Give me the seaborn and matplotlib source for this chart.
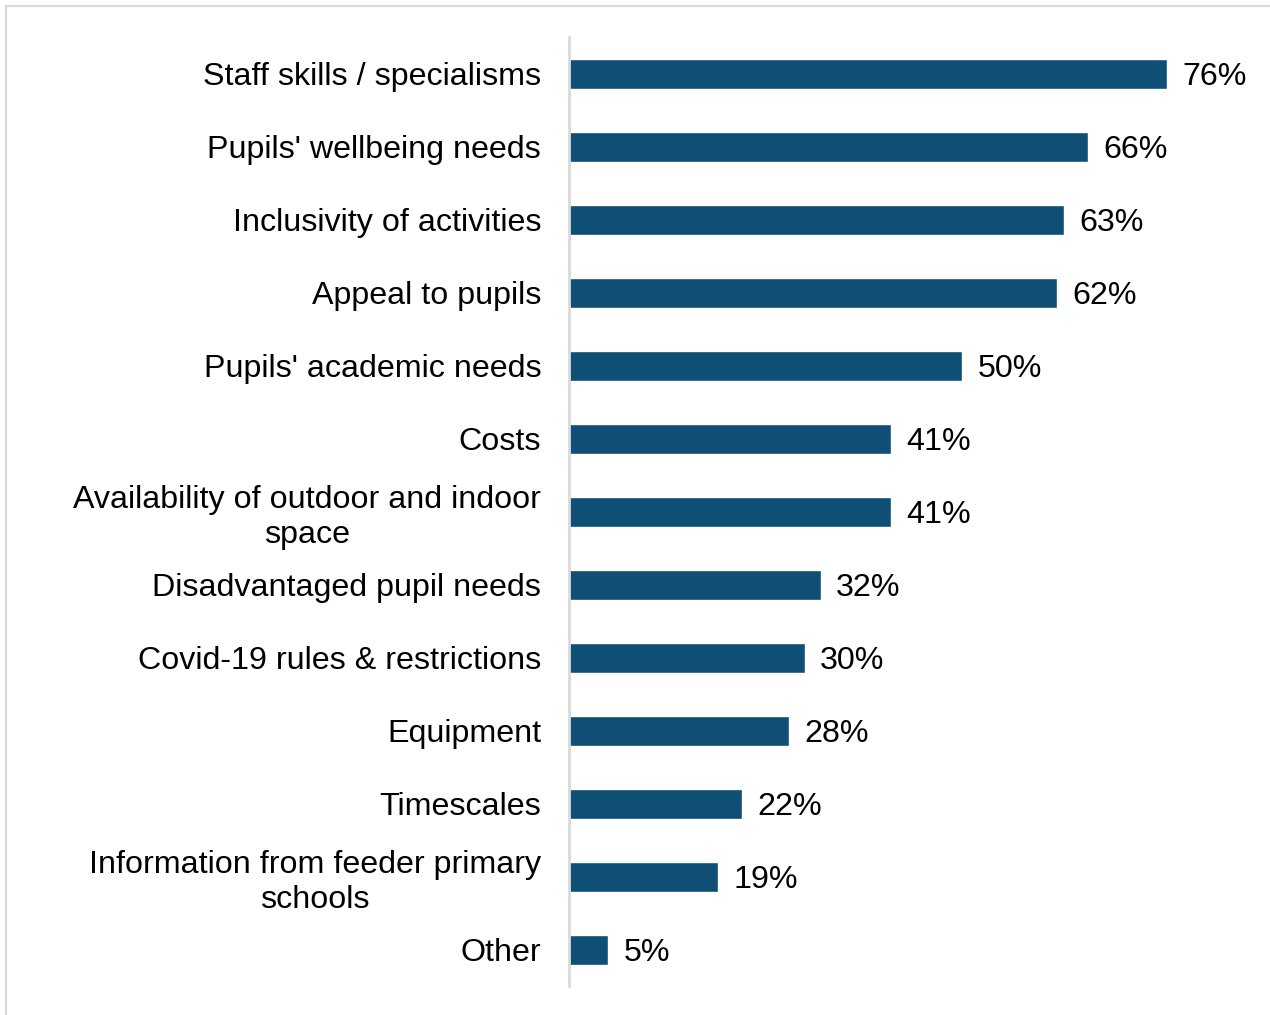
import matplotlib
matplotlib.use("Agg")
import matplotlib.pyplot as plt
from matplotlib.patches import Rectangle
import seaborn as sns
import pandas as pd

categories = [
    "Staff skills / specialisms",
    "Pupils' wellbeing needs",
    "Inclusivity of activities",
    "Appeal to pupils",
    "Pupils' academic needs",
    "Costs",
    "Availability of outdoor and indoor\nspace",
    "Disadvantaged pupil needs",
    "Covid-19 rules & restrictions",
    "Equipment",
    "Timescales",
    "Information from feeder primary\nschools",
    "Other",
]
values = [76, 66, 63, 62, 50, 41, 41, 32, 30, 28, 22, 19, 5]

df = pd.DataFrame({"factor": categories, "pct": values})

sns.set_theme(style="white")
plt.rcParams["font.family"] = ["Liberation Sans", "DejaVu Sans"]

fig = plt.figure(figsize=(12.7, 10.15), dpi=100)
ax = fig.add_axes([0.448, 0.0281, 0.545, 0.935])

bar_color = "#104F75"
sns.barplot(data=df, x="pct", y="factor", orient="h", color=bar_color,
            width=0.4, saturation=1, ax=ax)

ax.set_xlim(0, 88)
ax.set_xlabel("")
ax.set_ylabel("")
ax.set_xticks([])
for side in ["top", "right", "bottom"]:
    ax.spines[side].set_visible(False)
ax.spines["left"].set_color("#D9D9D9")
ax.spines["left"].set_linewidth(2)

ax.tick_params(axis="y", length=0, pad=20, labelsize=23.2, labelcolor="black")
for lbl in ax.get_yticklabels():
    lbl.set_multialignment("center")

for container in ax.containers:
    texts = ax.bar_label(container, labels=[f"{v}%" for v in values],
                         padding=11, fontsize=23.2, color="black")
    for t in texts:
        t.set_verticalalignment("center_baseline")

# light frame around the figure
fig.patches.append(Rectangle((6 / 1270, -0.01), 1.1, 1 - 6 / 1015 + 0.01,
                             transform=fig.transFigure, fill=False,
                             edgecolor="#D9D9D9", linewidth=1.5))

fig.savefig("out.png", dpi=100, facecolor="white")
